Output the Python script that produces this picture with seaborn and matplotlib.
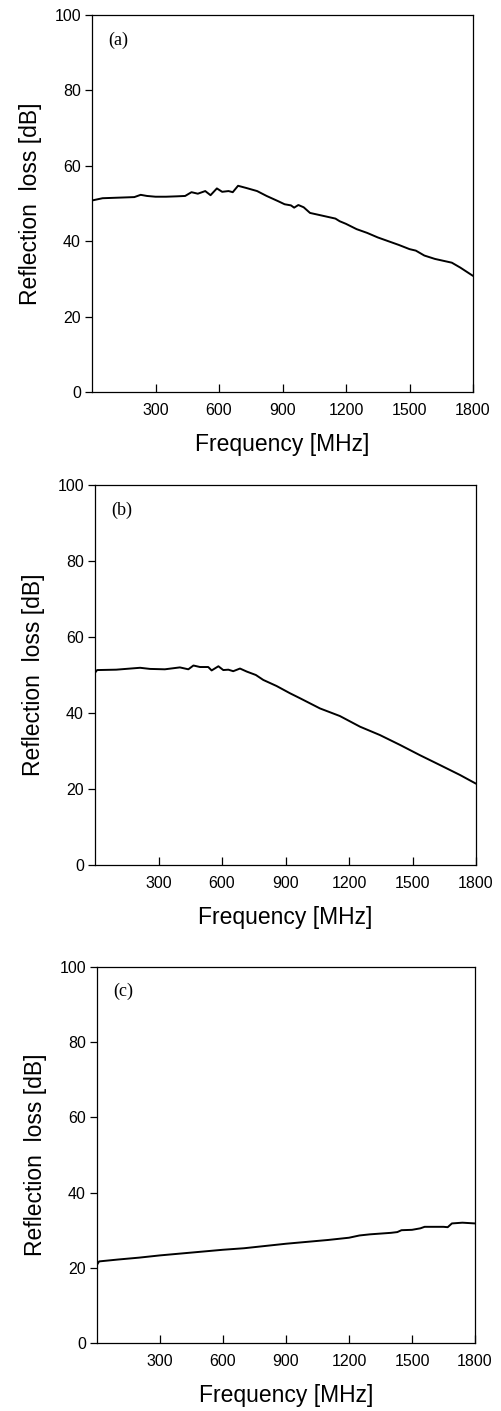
import matplotlib
matplotlib.use("Agg")
import matplotlib.pyplot as plt
import seaborn as sns
import pandas as pd

# ---------------- data ----------------
freq_a = [0, 50, 100, 150, 200, 230, 260, 300, 350, 400, 440, 470, 500, 535, 560,
          590, 615, 645, 665, 690, 730, 780, 825, 880, 910, 940, 955, 975, 1000,
          1030, 1070, 1110, 1150, 1170, 1200, 1250, 1300, 1350, 1400, 1450, 1500,
          1530, 1570, 1620, 1660, 1700, 1740, 1800]
loss_a = [50.8, 51.4, 51.5, 51.6, 51.7, 52.3, 52.0, 51.8, 51.8, 51.9, 52.0, 53.0,
          52.6, 53.3, 52.2, 54.0, 53.1, 53.3, 53.0, 54.7, 54.1, 53.3, 52.0, 50.6,
          49.8, 49.5, 48.9, 49.6, 49.0, 47.5, 47.0, 46.5, 46.0, 45.3, 44.6, 43.2,
          42.2, 41.0, 40.0, 39.0, 37.9, 37.5, 36.2, 35.3, 34.8, 34.3, 33.0, 30.8]

freq_b = [0, 10, 100, 213, 260, 330, 401, 441, 465, 496, 535, 551, 583, 606, 630,
          653, 685, 717, 760, 795, 858, 921, 968, 1063, 1157, 1252, 1346, 1441,
          1535, 1630, 1724, 1800]
loss_b = [50.6, 51.3, 51.4, 51.9, 51.6, 51.5, 52.0, 51.5, 52.5, 52.1, 52.1, 51.2,
          52.3, 51.3, 51.4, 51.0, 51.7, 50.9, 50.0, 48.7, 47.1, 45.2, 43.9, 41.2,
          39.2, 36.4, 34.2, 31.6, 28.9, 26.3, 23.7, 21.4]

freq_c = [0, 10, 100, 200, 300, 400, 500, 600, 700, 800, 900, 1000, 1100, 1200,
          1250, 1300, 1400, 1430, 1450, 1500, 1540, 1560, 1650, 1670, 1690, 1740,
          1800]
loss_c = [20.8, 21.7, 22.2, 22.7, 23.3, 23.8, 24.3, 24.8, 25.2, 25.8, 26.4, 26.9,
          27.4, 28.0, 28.6, 28.9, 29.3, 29.5, 30.0, 30.1, 30.5, 30.9, 30.9, 30.8,
          31.8, 32.0, 31.8]

panel_labels = ["(a)", "(b)", "(c)"]
x_ticks = [300, 600, 900, 1200, 1500, 1800]
y_ticks = [0, 20, 40, 60, 80, 100]
x_label = "Frequency [MHz]"
y_label = "Reflection  loss [dB]"

# ---------------- style ----------------
sns.set_style("ticks")
plt.rcParams["font.family"] = ["Liberation Sans", "DejaVu Sans"]
plt.rcParams["text.color"] = "black"
plt.rcParams["axes.labelcolor"] = "black"
plt.rcParams["xtick.color"] = "black"
plt.rcParams["ytick.color"] = "black"

fig = plt.figure(figsize=(5.01, 14.11), dpi=100)
W, H = 501.0, 1411.0
# pixel boxes: left, right, top, bottom
boxes = [(92, 473, 15, 392), (95, 476, 485, 865), (97, 475, 967, 1343)]
datasets = [(freq_a, loss_a), (freq_b, loss_b), (freq_c, loss_c)]

for (l, r, t, b), (fx, ly), lab in zip(boxes, datasets, panel_labels):
    ax = fig.add_axes([l / W, 1 - b / H, (r - l) / W, (b - t) / H])
    df = pd.DataFrame({"freq": fx, "loss": ly})
    sns.lineplot(data=df, x="freq", y="loss", ax=ax, color="black", linewidth=1.4)
    ax.set_xlim(0, 1800)
    ax.set_ylim(0, 100)
    ax.set_xticks(x_ticks)
    ax.set_yticks(y_ticks)
    ax.tick_params(axis="x", direction="in", length=6, width=0.9, pad=8, labelsize=11.5)
    ax.tick_params(axis="y", direction="out", length=5, width=0.9, pad=3, labelsize=11.5)
    for s in ax.spines.values():
        s.set_visible(True)
        s.set_linewidth(0.9)
        s.set_color("black")
    ax.set_xlabel(x_label, fontsize=16.5, labelpad=11)
    ax.set_ylabel(y_label, fontsize=16.5, labelpad=9)
    ax.text(0.042, 0.934, lab, transform=ax.transAxes, fontsize=13,
            family=["Liberation Serif", "DejaVu Serif"], va="center", ha="left")

fig.savefig("out.png", dpi=100)
